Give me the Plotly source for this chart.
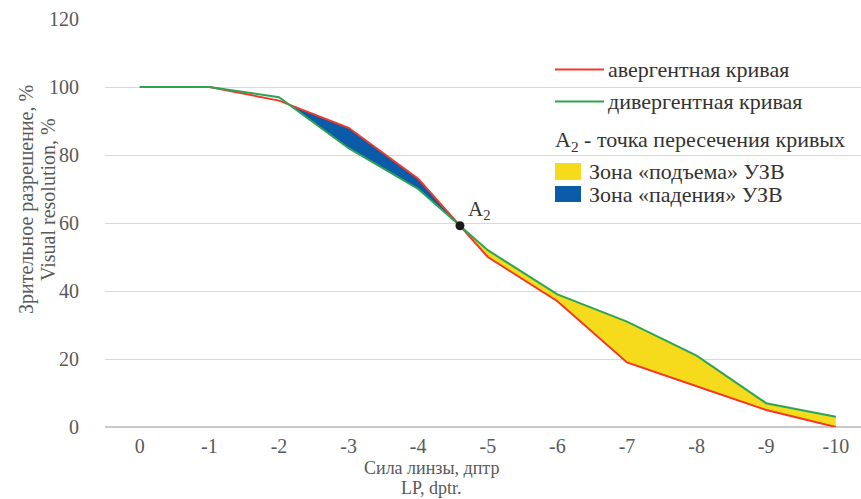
import plotly.graph_objects as go

# ---- data ----
lens_power = [0, -1, -2, -3, -4, -5, -6, -7, -8, -9, -10]
tick_labels = ["0", "-1", "-2", "-3", "-4", "-5", "-6", "-7", "-8", "-9", "-10"]
avergent = [100, 100, 96, 88, 73, 50, 37, 19, 12, 5, 0]
divergent = [100, 100, 97, 82, 70, 52, 39, 31, 21, 7, 3]
y_ticks = [0, 20, 40, 60, 80, 100, 120]

name_red = "авергентная кривая"
name_green = "дивергентная кривая"
name_a2 = "A<sub>2</sub> - точка пересечения кривых"
name_yellow = "Зона «подъема» УЗВ"
name_blue = "Зона «падения» УЗВ"
y_title = ["Зрительное разрешение, %", "Visual resolution, %"]
x_title = ["Сила линзы, дптр", "LP, dptr."]

RED = "#f2382c"
GREEN = "#2ea453"
YELLOW = "#f6da1c"
BLUE = "#0b5ca8"
FONT = "Liberation Serif"
FS_TICK = 20
FS_LEG = 22
TXT = "#333333"
GRAY = "#595959"

# ---- crossings of the two curves (linear interpolation) ----
diff = [a - d for a, d in zip(avergent, divergent)]
crossings = []
for i in range(len(diff) - 1):
    if diff[i] * diff[i + 1] < 0:
        t = diff[i] / (diff[i] - diff[i + 1])
        cx = lens_power[i] + t * (lens_power[i + 1] - lens_power[i])
        cy = avergent[i] + t * (avergent[i + 1] - avergent[i])
        crossings.append((i, cx, cy))

(i1, c1x, c1y), (i2, c2x, c2y) = crossings[0], crossings[1]

# blue zone: between first crossing and A2 (avergent above divergent)
idx_b = list(range(i1 + 1, i2 + 1))
blue_x = [c1x] + [lens_power[k] for k in idx_b] + [c2x] + [lens_power[k] for k in reversed(idx_b)] + [c1x]
blue_y = [c1y] + [avergent[k] for k in idx_b] + [c2y] + [divergent[k] for k in reversed(idx_b)] + [c1y]

# yellow zone: from A2 to end (divergent above avergent)
idx_y = list(range(i2 + 1, len(lens_power)))
yel_x = [c2x] + [lens_power[k] for k in idx_y] + [lens_power[k] for k in reversed(idx_y)] + [c2x]
yel_y = [c2y] + [divergent[k] for k in idx_y] + [avergent[k] for k in reversed(idx_y)] + [c2y]

fig = go.Figure()
fig.add_trace(go.Scatter(x=yel_x, y=yel_y, fill="toself", fillcolor=YELLOW, mode="lines",
                         line=dict(width=0), showlegend=False, hoverinfo="skip"))
fig.add_trace(go.Scatter(x=blue_x, y=blue_y, fill="toself", fillcolor=BLUE, mode="lines",
                         line=dict(width=0), showlegend=False, hoverinfo="skip"))
fig.add_trace(go.Scatter(x=lens_power, y=avergent, mode="lines", line=dict(color=RED, width=2),
                         name=name_red, showlegend=False))
fig.add_trace(go.Scatter(x=lens_power, y=divergent, mode="lines", line=dict(color=GREEN, width=2),
                         name=name_green, showlegend=False))
fig.add_trace(go.Scatter(x=[c2x], y=[c2y], mode="markers", marker=dict(color="#1a1a1a", size=9),
                         showlegend=False))
fig.add_annotation(x=c2x, y=c2y, text="A<sub>2</sub>", showarrow=False, xanchor="left", yanchor="bottom",
                   xshift=6, yshift=1, font=dict(family=FONT, size=FS_LEG - 1, color=TXT))

# ---- legend (drawn in paper space) ----
L, R_, T, B = 105, 861, 19, 427
def px(xp):
    return (xp - L) / (R_ - L)
def py(yp):
    return (B - yp) / (B - T)

for color, yl, txt in [(RED, 69.5, name_red), (GREEN, 101.5, name_green)]:
    fig.add_shape(type="line", xref="paper", yref="paper", x0=px(555), x1=px(604), y0=py(yl), y1=py(yl),
                  line=dict(color=color, width=2))
    fig.add_annotation(xref="paper", yref="paper", x=px(606), y=py(yl), text=txt, showarrow=False,
                       xanchor="left", yanchor="middle", font=dict(family=FONT, size=FS_LEG, color=TXT))
fig.add_annotation(xref="paper", yref="paper", x=px(553), y=py(141), text=name_a2, showarrow=False,
                   xanchor="left", yanchor="middle", font=dict(family=FONT, size=FS_LEG, color=TXT))
for color, y0, y1, txt in [(YELLOW, 163, 180, name_yellow), (BLUE, 186, 202, name_blue)]:
    fig.add_shape(type="rect", xref="paper", yref="paper", x0=px(555), x1=px(581), y0=py(y1), y1=py(y0),
                  fillcolor=color, line=dict(width=0))
    fig.add_annotation(xref="paper", yref="paper", x=px(587), y=py((y0 + y1) / 2), text=txt, showarrow=False,
                       xanchor="left", yanchor="middle", font=dict(family=FONT, size=FS_LEG, color=TXT))

# ---- axis titles (two lines each, placed separately for tight line spacing) ----
for xc, txt in zip([26, 48], y_title):
    fig.add_annotation(xref="paper", yref="paper", x=px(xc), y=py(200), text=txt, textangle=-90,
                       showarrow=False, xanchor="center", yanchor="middle",
                       font=dict(family=FONT, size=FS_TICK, color=GRAY))
for yc, txt in zip([468, 488], x_title):
    fig.add_annotation(xref="paper", yref="paper", x=px(431), y=py(yc), text=txt,
                       showarrow=False, xanchor="center", yanchor="middle",
                       font=dict(family=FONT, size=18, color=GRAY))

fig.update_layout(
    width=861, height=499,
    margin=dict(l=L, r=861 - R_, t=T, b=499 - B),
    plot_bgcolor="white", paper_bgcolor="white",
    showlegend=False,
    font=dict(family=FONT, size=FS_TICK, color=GRAY),
)
fig.update_xaxes(range=[0.5, 0.5 - (R_ - L) / 69.6], tickvals=lens_power, ticktext=tick_labels,
                 showgrid=False, zeroline=False, showline=False, ticks="", ticklabelstandoff=5,
                 tickfont=dict(family=FONT, size=FS_TICK, color=GRAY))
fig.update_yaxes(range=[0, 120], tickvals=y_ticks, showgrid=True, gridcolor="#d9d9d9", gridwidth=1,
                 zeroline=True, zerolinecolor="#c8c8c8", zerolinewidth=1.5, showline=False, ticks="",
                 ticklabelstandoff=25, tickfont=dict(family=FONT, size=FS_TICK, color=GRAY))

fig.write_html("out.html")
